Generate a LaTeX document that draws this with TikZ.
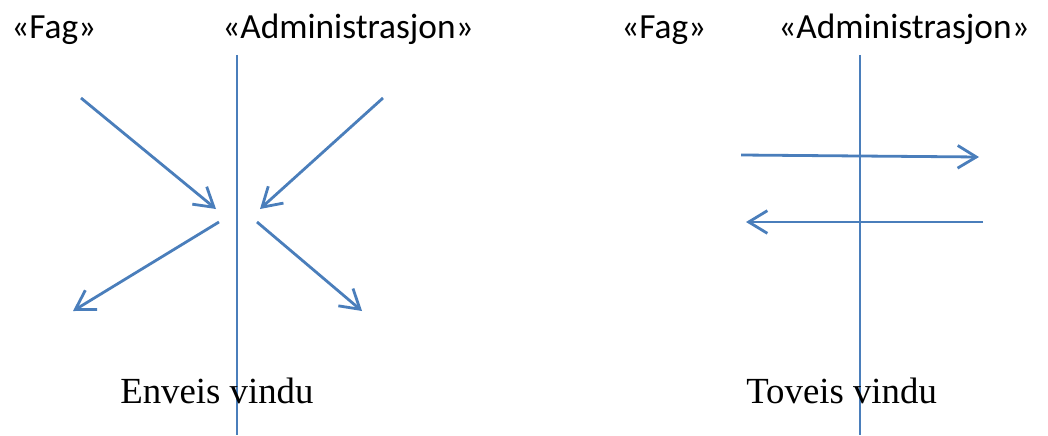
\documentclass[tikz,border=0pt]{standalone}
\usepackage{fontspec}
\setmainfont{Liberation Serif}
\newfontfamily\headfont{Carlito}
\usetikzlibrary{arrows.meta}
\definecolor{lineblue}{RGB}{74,126,187}
\tikzset{
    wall/.style={lineblue,line width=2.1pt},
    flow/.style={lineblue,line width=2.1pt,-{Straight Barb[length=14pt,width=17pt,line width=2.1pt]}},
    head/.style={anchor=base west,inner sep=0pt,font=\headfont\fontsize{26.5}{30}\selectfont},
    caption/.style={anchor=base west,inner sep=0pt,font=\fontsize{27.6}{32}\selectfont}
}
\begin{document}
\begin{tikzpicture}[x=0.75pt,y=-0.75pt]
    \useasboundingbox (0,0) rectangle (1048,435);
    % one-way window
    \node[head] (fagA) at (11,39) {«Fag»};
    \node[head] (admA) at (222,39) {«Administrasjon»};
    \coordinate (wallAtop) at (237,55);
    \coordinate (wallAbot) at (237,435);
    \draw[wall] (wallAtop) -- (wallAbot);
    \coordinate (a1s) at (81,98);    \coordinate (a1e) at (216,209);
    \coordinate (a2s) at (383,98);   \coordinate (a2e) at (260,209);
    \coordinate (a3s) at (219,222);  \coordinate (a3e) at (73,311);
    \coordinate (a4s) at (257,222);  \coordinate (a4e) at (362,311);
    \draw[flow] (a1s) -- (a1e);
    \draw[flow] (a2s) -- (a2e);
    \draw[flow] (a3s) -- (a3e);
    \draw[flow] (a4s) -- (a4e);
    \node[caption] (capA) at (120,403) {Enveis vindu};
    % two-way window
    \node[head] (fagB) at (621,39) {«Fag»};
    \node[head] (admB) at (778,39) {«Administrasjon»};
    \coordinate (wallBtop) at (860,55);
    \coordinate (wallBbot) at (860,435);
    \draw[wall] (wallBtop) -- (wallBbot);
    \coordinate (b1s) at (741,155);  \coordinate (b1e) at (979,157);
    \coordinate (b2s) at (983,222);  \coordinate (b2e) at (746,222);
    \draw[flow] (b1s) -- (b1e);
    \draw[flow] (b2s) -- (b2e);
    \node[caption] (capB) at (746,403) {Toveis vindu};
\end{tikzpicture}
\end{document}
